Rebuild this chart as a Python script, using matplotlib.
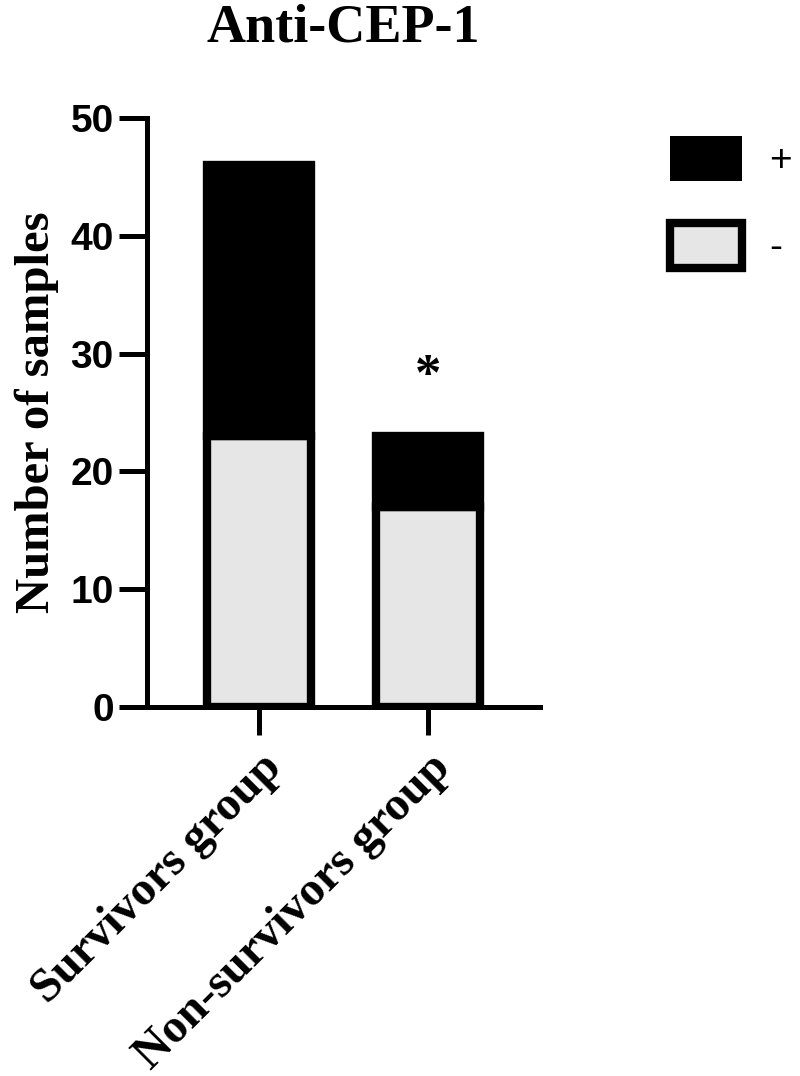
import matplotlib.pyplot as plt
from matplotlib.patches import Patch

groups = ['Survivors group', 'Non-survivors group']
neg_counts = [23, 17]
pos_counts = [23, 6]
series_labels = ['+', '-']
y_ticks = [0, 10, 20, 30, 40, 50]

serif = 'Liberation Serif'
sans = 'Liberation Sans'

fig = plt.figure(figsize=(8, 10.76), dpi=100)
ax = fig.add_axes([147 / 800, 1 - 707 / 1076, (540 - 147) / 800, (707 - 118) / 1076])

x = list(range(len(groups)))
w = 0.61
lw = 6
ax.bar(x, neg_counts, width=w, color='#e6e6e6', edgecolor='black', linewidth=lw, zorder=2)
ax.bar(x, pos_counts, width=w, bottom=neg_counts, color='black', edgecolor='black',
       linewidth=lw, zorder=2)

ax.set_xlim(-0.663, 1.663)
ax.set_ylim(0, 50)
ax.set_yticks(y_ticks)
ax.set_xticks(x)
ax.set_xticklabels(groups, rotation=45, ha='right', rotation_mode='anchor',
                   fontfamily=serif, fontweight='bold', fontsize=34.5)
for lab in ax.get_yticklabels():
    lab.set_fontfamily(sans)
    lab.set_fontweight('bold')
    lab.set_fontsize(28)

for s in ['top', 'right']:
    ax.spines[s].set_visible(False)
for s in ['left', 'bottom']:
    ax.spines[s].set_linewidth(3.6)
ax.tick_params(axis='both', width=3.6, length=20, pad=4)
ax.tick_params(axis='x', pad=8)

ax.set_ylabel('Number of samples', fontfamily=serif, fontweight='bold', fontsize=35, labelpad=8)
ax.set_title('Anti-CEP-1', fontfamily=serif, fontweight='bold', fontsize=39, pad=55)

ax.text(1, 28.0, '*', ha='center', va='center', fontfamily=serif, fontweight='bold', fontsize=38)

handles = [Patch(facecolor='black', edgecolor='black', linewidth=0),
           Patch(facecolor='#e6e6e6', edgecolor='black', linewidth=6)]
leg = fig.legend(handles, series_labels, loc='upper left', bbox_to_anchor=(635 / 800, 1 - 101 / 1076),
                 frameon=False, prop={'family': sans, 'size': 28},
                 handlelength=1.85, handleheight=1.4, labelspacing=1.08, handletextpad=0.7)

fig.savefig('out.png', dpi=100)
